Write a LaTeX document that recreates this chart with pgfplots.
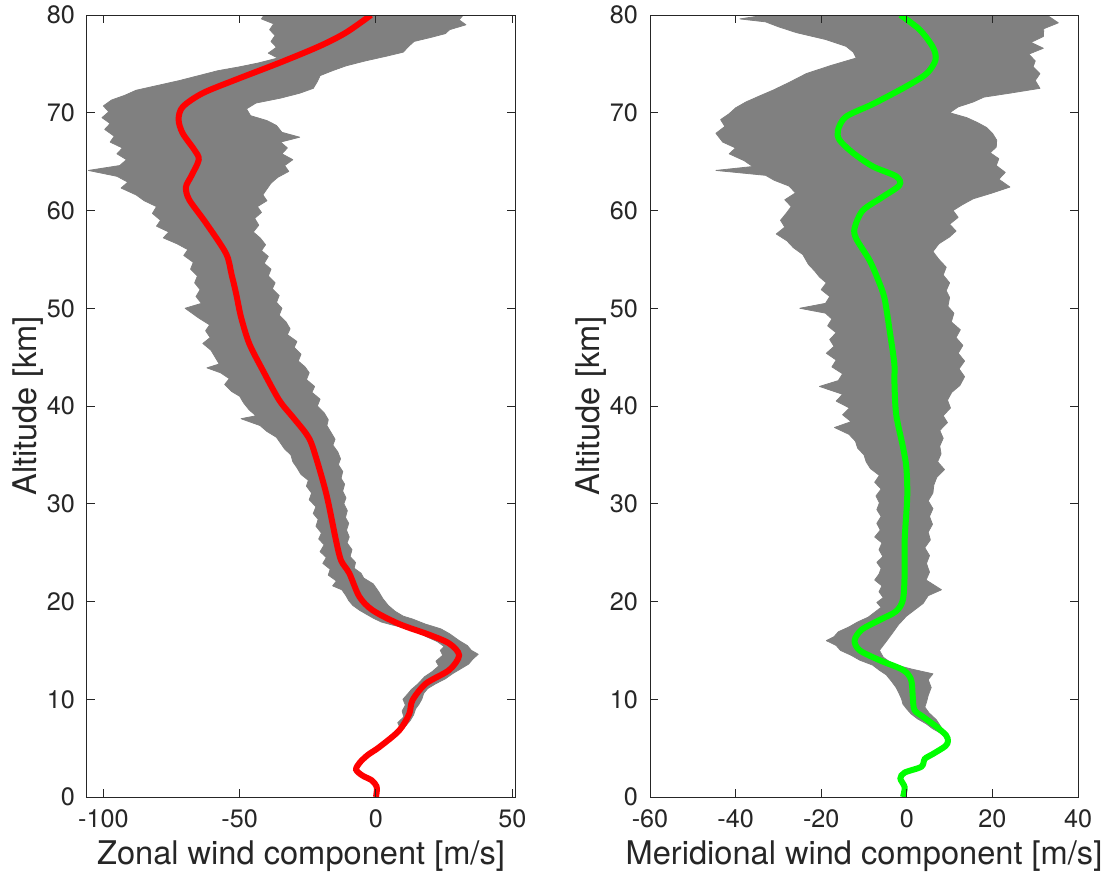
\documentclass[border=0pt]{standalone}
\usepackage{fontspec}
\setmainfont{TeX Gyre Heros}
\usepackage{pgfplots}
\pgfplotsset{compat=1.18}
\definecolor{axgray}{gray}{0.15}
\definecolor{ens}{gray}{0.5}
\definecolor{zonal}{rgb}{1,0,0}
\definecolor{merid}{rgb}{0,1,0}

\pgfplotsset{
  windaxis/.style={
    width=214pt, height=391pt, scale only axis,
    ymin=0, ymax=80, ytick={0,10,...,80},
    axis on top,
    axis line style={axgray, line width=0.5pt},
    every tick/.style={axgray, line width=0.5pt},
    major tick length=4pt,
    tick align=inside,
    ticklabel style={font=\fontsize{12.6}{14}\selectfont, text=axgray},
    yticklabel style={xshift=-2.5pt},
    xticklabel style={yshift=-3pt},
    /pgf/number format/assume math mode=true,
    label style={font=\fontsize{16.3}{19}\selectfont, text=axgray},
    ylabel={Altitude [km]},
    ylabel style={at={(axis description cs:0,0.5)}, anchor=center, yshift=29.5pt},
    xlabel style={at={(axis description cs:0.5,0)}, anchor=center, yshift=-29.5pt},
  }
}

\begin{document}
\begin{tikzpicture}
\useasboundingbox (-43.5pt,-38.5pt) rectangle (508.5pt,398.5pt);

% ---------- zonal ----------
\begin{axis}[windaxis, at={(0,0)},
  xmin=-106, xmax=51, xtick={-100,-50,0,50},
  xlabel={Zonal wind component [m/s]}]
\addplot[fill=ens, draw=ens, line width=0.4pt, line join=round] coordinates {
(9.0,7.0) (8.0,7.6) (10.2,8.2) (9.6,8.8) (10.8,9.4) (9.9,10.0) (11.5,10.5) (13.0,11.0)
(15.5,11.6) (17.8,12.3) (20.5,12.8) (23.0,13.4) (22.0,13.9) (24.5,14.5) (23.6,15.0)
(25.0,15.4) (22.5,15.9) (18.5,16.4) (15.0,16.9) (10.5,17.3) (6.0,17.6) (2.0,17.9)
(-1.0,18.3) (-3.5,18.7) (-6.0,19.1) (-8.5,19.6) (-10.0,20.1) (-11.0,20.6) (-12.5,21.2)
(-15.9,21.6) (-14.5,22.1) (-17.5,22.7) (-16.8,23.3) (-19.5,23.9) (-18.2,24.5) (-20.5,25.1)
(-19.0,25.8) (-21.0,26.4) (-20.0,27.0) (-22.0,27.7) (-21.2,28.4) (-23.0,29.0) (-22.0,29.7)
(-24.5,30.4) (-23.6,31.1) (-25.5,31.8) (-24.8,32.4) (-27.5,33.0) (-29.0,33.7) (-30.5,34.3)
(-31.2,35.0) (-33.5,35.6) (-35.0,36.2) (-36.5,36.8) (-40.0,37.4) (-42.5,38.0) (-49.5,38.7)
(-44.0,39.0) (-46.5,39.6) (-48.5,40.3) (-50.0,41.0) (-53.0,41.5) (-55.5,42.2) (-53.8,42.8)
(-57.0,43.4) (-62.0,43.9) (-57.5,44.3) (-59.0,45.0) (-60.5,45.7) (-63.5,46.4) (-60.8,47.0)
(-62.5,47.7) (-61.0,48.3) (-65.0,49.0) (-70.0,50.0) (-64.0,50.5) (-66.0,51.2) (-64.5,51.9)
(-66.5,52.6) (-65.5,53.3) (-68.0,54.0) (-67.0,54.7) (-70.5,55.4) (-69.0,56.0) (-73.0,56.6)
(-78.0,57.2) (-76.0,57.8) (-80.5,58.4) (-79.0,59.0) (-82.0,59.7) (-80.5,60.4) (-85.0,61.0)
(-88.0,61.6) (-93.5,62.3) (-91.0,62.9) (-95.0,63.5) (-105.5,64.1) (-94.0,64.6) (-91.5,65.2)
(-95.0,65.8) (-93.0,66.4) (-97.5,67.0) (-96.0,67.6) (-99.5,68.3) (-97.5,68.9) (-100.5,69.5)
(-98.0,70.1) (-100.0,70.7) (-97.0,71.3) (-92.0,71.8) (-88.0,72.3) (-80.0,72.8) (-72.0,73.3)
(-65.0,73.8) (-58.0,74.3) (-50.0,74.7) (-43.0,75.1) (-36.0,75.6) (-39.5,76.1) (-36.5,76.7)
(-38.5,77.3) (-37.0,77.9) (-39.0,78.5) (-37.5,79.1) (-42.0,79.6) (-41.0,80.0)
(32.0,80.0) (30.5,79.5) (33.0,79.0) (27.0,78.5) (25.5,78.1) (20.0,77.7) (14.0,77.3)
(12.0,76.8) (10.0,76.2) (4.0,75.8) (-4.0,75.3) (-11.0,74.8) (-16.0,74.3) (-20.5,73.8)
(-21.5,73.2) (-23.0,72.5) (-28.0,72.0) (-35.0,71.5) (-44.0,71.0) (-47.5,70.4) (-46.0,69.7)
(-40.0,69.2) (-36.5,68.7) (-34.5,68.0) (-28.0,67.5) (-35.0,67.0) (-32.5,66.4) (-34.5,65.8)
(-30.5,65.2) (-33.5,64.6) (-32.0,64.0) (-36.0,63.4) (-38.5,62.8) (-40.0,62.2) (-41.5,61.6)
(-40.0,61.0) (-43.5,60.4) (-42.0,59.8) (-44.5,59.2) (-43.0,58.5) (-45.0,57.8) (-42.5,57.2)
(-40.5,56.5) (-42.0,55.9) (-39.5,55.3) (-41.0,54.6) (-38.5,54.0) (-39.5,53.3) (-37.0,52.6)
(-38.0,52.0) (-35.5,51.3) (-36.5,50.6) (-34.5,50.0) (-35.5,49.3) (-33.0,48.6) (-31.5,47.9)
(-32.5,47.3) (-29.0,46.6) (-30.0,46.0) (-27.5,45.3) (-28.5,44.6) (-26.0,44.0) (-24.5,43.4)
(-25.5,42.7) (-22.5,42.0) (-23.5,41.4) (-20.5,40.7) (-21.5,40.0) (-19.0,39.3) (-17.5,38.6)
(-18.0,38.0) (-16.5,37.3) (-15.0,36.6) (-15.8,36.0) (-14.0,35.3) (-13.0,34.6) (-13.8,34.0)
(-12.2,33.3) (-12.8,32.6) (-11.5,32.0) (-12.2,31.3) (-11.0,30.6) (-11.8,30.0) (-10.5,29.3)
(-11.2,28.6) (-10.0,28.0) (-10.8,27.3) (-9.8,26.6) (-10.6,26.0) (-8.8,25.3) (-9.5,24.6)
(-7.5,24.0) (-8.0,23.4) (-5.5,22.9) (-4.5,22.4) (-1.0,21.8) (1.0,21.0) (2.5,20.3)
(4.5,19.6) (7.0,19.0) (10.0,18.5) (13.5,18.2) (18.0,17.7) (23.8,17.2) (27.0,16.7)
(30.5,16.0) (33.5,15.5) (35.0,15.0) (37.5,14.6) (35.5,14.1) (34.0,13.6) (31.0,13.1)
(28.0,12.6) (25.5,12.1) (22.0,11.6) (19.0,11.1) (17.5,10.6) (16.8,10.0) (15.8,9.5)
(14.5,9.0) (13.8,8.4) (12.5,7.8) (11.0,7.3) (9.5,7.0)
} -- cycle;
\addplot[zonal, line width=3pt, smooth, tension=0.5] coordinates {
(0,0) (0.3,0.6) (0.2,1.1) (-1.5,1.7) (-5,2.2) (-7.3,2.8) (-6,3.5) (-3,4.3) (1.2,5.1)
(8.5,6.8) (12.2,8.5) (13.4,9.9) (18.3,11.6) (26.9,13.0) (30.5,14.5) (26.9,15.7) (19.5,16.6)
(8.5,17.7) (-1.2,19.1) (-6.1,20.5) (-9.8,22.9) (-12.8,24.2) (-14.7,26.3) (-18.3,31.1)
(-23.2,35.8) (-25.7,37.2) (-30.6,38.9) (-35.5,40.6) (-41.6,43.7) (-46.5,46.4) (-49.5,49.1)
(-51.3,51.5) (-53,53.5) (-55.0,55.6) (-62.3,58.7) (-68.5,61.1) (-69.7,62.4) (-67.8,63.5)
(-65.0,65.2) (-66.6,66.2) (-70.9,67.9) (-72.4,69.3) (-70.9,70.6) (-63.6,72.0) (-51.3,73.4)
(-35.5,75.1) (-20.8,76.8) (-11.0,78.2) (-1.8,80)
};
\end{axis}

% ---------- meridional ----------
\begin{axis}[windaxis, at={(281.5pt,0)},
  xmin=-60, xmax=40, xtick={-60,-40,...,40},
  xlabel={Meridional wind component [m/s]}]
\addplot[fill=ens, draw=ens, line width=0.4pt, line join=round] coordinates {
(9.3,6.0) (8.0,6.5) (6.0,7.0) (4.5,7.5) (2.5,8.0) (1.0,8.5) (0.0,9.0) (-0.9,9.5)
(-1.2,10.0) (-1.8,10.6) (-2.5,11.2) (-3.5,11.8) (-4.8,12.5) (-6.5,13.0) (-8.0,13.5)
(-11.0,14.0) (-13.0,14.5) (-15.5,15.0) (-16.5,15.5) (-18.8,16.0) (-17.0,16.4) (-16.0,16.9)
(-13.5,17.4) (-11.5,17.9) (-9.0,18.4) (-7.5,18.9) (-6.0,19.4) (-7.0,19.9) (-5.5,20.4)
(-6.5,21.0) (-5.8,21.6) (-7.5,22.2) (-6.5,22.8) (-6.0,23.4) (-7.0,24.0) (-5.6,24.6)
(-6.5,25.3) (-5.8,26.0) (-7.5,26.6) (-6.2,27.3) (-7.0,28.0) (-6.0,28.7) (-7.0,29.4)
(-6.4,30.1) (-7.2,30.8) (-6.0,31.5) (-7.5,32.2) (-6.4,32.9) (-8.5,33.6) (-9.5,34.3)
(-10.0,35.0) (-11.5,35.7) (-12.0,36.4) (-13.5,37.1) (-16.9,37.8) (-13.0,38.4) (-15.0,39.1)
(-13.4,39.8) (-16.5,40.5) (-15.0,41.2) (-20.4,42.0) (-16.0,42.6) (-15.0,43.3) (-17.5,44.0)
(-16.5,44.7) (-18.8,45.4) (-17.0,46.1) (-18.0,46.8) (-16.5,47.5) (-18.5,48.2) (-17.5,48.9)
(-19.0,49.5) (-25.0,50.0) (-19.0,50.5) (-18.0,51.2) (-20.0,51.9) (-18.8,52.6) (-20.4,53.2)
(-21.5,53.8) (-23.0,54.5) (-24.3,55.5) (-26.5,56.2) (-28.0,56.9) (-30.5,57.6) (-28.5,58.3)
(-29.5,59.0) (-28.2,59.7) (-27.0,60.4) (-28.5,61.1) (-26.0,61.8) (-27.5,62.5) (-31.0,63.1)
(-33.0,63.6) (-44.6,64.1) (-36.0,64.5) (-38.0,65.1) (-41.5,65.8) (-40.0,66.4) (-43.0,67.0)
(-44.6,67.9) (-42.5,68.6) (-43.5,69.3) (-41.5,69.9) (-40.0,70.5) (-37.6,71.1) (-34.5,71.7)
(-31.3,72.3) (-27.5,73.1) (-23.5,74.0) (-18.0,74.8) (-11.8,75.6) (-12.5,76.2) (-14.2,76.8)
(-19.0,77.5) (-25.8,78.2) (-30.0,78.8) (-33.0,79.3) (-39.0,79.6) (-33.0,80.0)
(32.7,80.0) (35.4,79.2) (32.0,78.6) (31.9,77.8) (29.0,77.2) (31.9,76.6) (28.5,76.0)
(30.0,75.3) (29.5,74.7) (31.1,74.0) (30.0,73.3) (31.1,72.5) (24.0,72.0) (18.0,71.6)
(15.5,71.1) (12.0,70.6) (10.0,70.0) (14.0,69.5) (16.5,69.0) (18.6,68.5) (20.0,67.9)
(21.0,67.2) (20.9,66.5) (19.5,65.9) (21.5,65.3) (20.9,64.6) (23.0,63.9) (21.5,63.2)
(24.1,62.4) (20.0,61.8) (15.5,61.2) (13.0,60.6) (10.8,60.0) (12.0,59.3) (10.0,58.6)
(11.5,57.9) (10.0,57.3) (7.5,56.6) (6.1,55.8) (7.5,55.0) (9.2,54.2) (8.5,53.4) (10.0,52.6)
(9.2,51.8) (10.0,51.1) (9.6,50.2) (11.0,49.5) (10.4,48.6) (12.5,47.8) (11.5,47.0)
(13.1,46.2) (12.0,45.4) (13.5,44.6) (12.2,43.8) (13.5,43.0) (12.4,42.1) (10.5,41.4)
(9.5,40.6) (10.2,39.8) (8.5,39.0) (9.5,38.3) (7.7,37.5) (8.5,36.7) (7.7,35.9) (8.0,35.1)
(7.2,34.3) (8.8,33.5) (7.0,32.7) (6.3,31.9) (6.1,31.1) (5.0,30.3) (6.1,29.5) (5.3,28.7)
(6.0,27.9) (5.0,27.1) (5.5,26.3) (4.2,25.5) (5.3,24.7) (4.6,23.9) (5.3,23.0) (4.5,22.2)
(8.1,21.2) (5.0,20.6) (3.8,19.8) (2.0,19.2) (-0.1,18.5) (-2.0,17.6) (-3.3,16.8)
(-5.0,15.8) (-6.4,15.0) (-5.5,14.3) (-3.3,13.6) (1.0,13.1) (6.1,12.6) (5.0,12.0)
(5.7,11.2) (5.0,10.4) (4.6,9.7) (4.2,9.2) (5.2,8.6) (6.9,7.9) (7.8,7.3) (8.8,6.6) (10.0,6.0)
} -- cycle;
\addplot[merid, line width=3pt, smooth, tension=0.5] coordinates {
(-0.9,0) (-0.5,1.0) (-1.5,1.9) (-0.5,2.5) (3.4,3.1) (4.2,3.9) (6.1,4.4) (9.0,5.2)
(9.6,5.7) (9.2,6.3) (6.9,7.2) (3.8,8.2) (1.8,8.9) (1.4,10.2) (1.0,12.0) (-0.9,13.0)
(-6.4,14.0) (-11,15.0) (-12.2,16.0) (-10.6,17.1) (-6.4,18.1) (-2.5,19.0) (-0.9,20.2)
(-0.5,22.9) (-0.5,26.3) (0.1,30.7) (-0.1,33.7) (-0.9,35.8) (-2.5,39.2) (-2.9,42.6)
(-2.9,44.3) (-4.0,47.7) (-5.2,51.0) (-6.6,52.8) (-8.7,54.9) (-11.8,57.1) (-12.2,58.2)
(-10.3,60.0) (-5.6,61.4) (-1.7,62.6) (-2.5,63.5) (-7.9,64.5) (-12.6,65.9) (-15.7,67.2)
(-16.1,68.2) (-14.2,69.6) (-7.9,70.9) (-0.1,72.7) (4.6,74.0) (6.7,75.4) (6.1,76.7)
(3.0,78.5) (-1.5,80)
};
\end{axis}
\end{tikzpicture}
\end{document}
